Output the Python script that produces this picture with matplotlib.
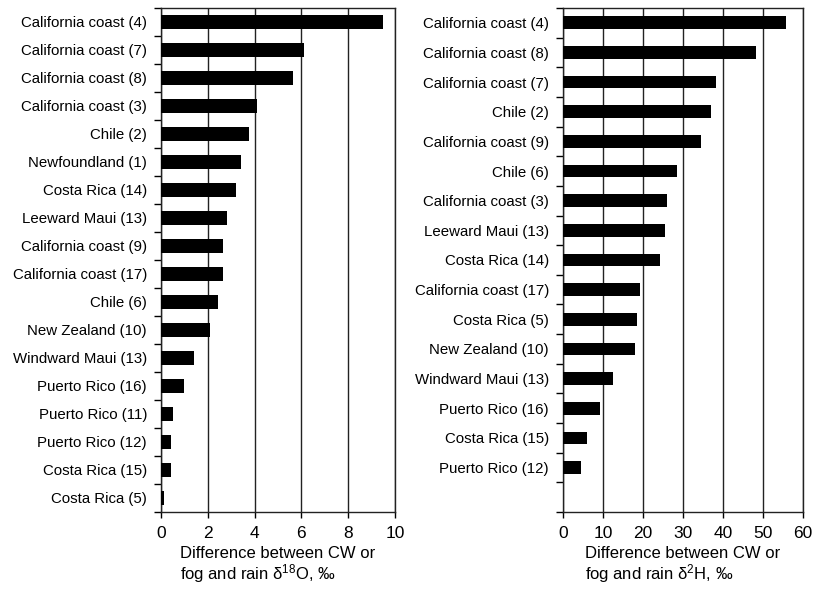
import matplotlib
matplotlib.use('Agg')
import matplotlib.pyplot as plt
import numpy as np

plt.rcParams['font.family'] = ['Liberation Sans', 'DejaVu Sans']
plt.rcParams['mathtext.fontset'] = 'custom'
plt.rcParams['mathtext.rm'] = 'Liberation Sans'
plt.rcParams['mathtext.it'] = 'Liberation Sans:italic'

o_sites = ['California coast (4)', 'California coast (7)', 'California coast (8)',
           'California coast (3)', 'Chile (2)', 'Newfoundland (1)', 'Costa Rica (14)',
           'Leeward Maui (13)', 'California coast (9)', 'California coast (17)',
           'Chile (6)', 'New Zealand (10)', 'Windward Maui (13)', 'Puerto Rico (16)',
           'Puerto Rico (11)', 'Puerto Rico (12)', 'Costa Rica (15)', 'Costa Rica (5)']
o_diff = [9.47, 6.12, 5.65, 4.1, 3.76, 3.42, 3.22, 2.83, 2.64, 2.64,
          2.43, 2.11, 1.39, 1.0, 0.52, 0.42, 0.42, 0.13]

h_sites = ['California coast (4)', 'California coast (8)', 'California coast (7)',
           'Chile (2)', 'California coast (9)', 'Chile (6)', 'California coast (3)',
           'Leeward Maui (13)', 'Costa Rica (14)', 'California coast (17)',
           'Costa Rica (5)', 'New Zealand (10)', 'Windward Maui (13)',
           'Puerto Rico (16)', 'Costa Rica (15)', 'Puerto Rico (12)']
h_diff = [55.7, 48.3, 38.2, 37.1, 34.6, 28.4, 26.1, 25.4, 24.2, 19.2,
          18.4, 18.1, 12.4, 9.2, 6.0, 4.6]

fig = plt.figure(figsize=(8.14, 5.91), dpi=100)
W, H = 814, 591


def panel(x0, x1, sites, vals, nslots, xmax, xlabel, height):
    ax = fig.add_axes([x0 / W, 1 - 512 / H, (x1 - x0) / W, (512 - 8) / H])
    y = np.arange(len(sites))
    ax.barh(y, vals, height=height, color='black', zorder=3)
    ax.set_ylim(nslots - 0.5, -0.5)
    ax.set_xlim(0, xmax)
    ax.set_xticks(np.linspace(0, xmax, 6 if xmax == 10 else 7))
    ax.set_yticks(y)
    ax.set_yticklabels(sites, fontsize=10.8)
    ax.set_yticks(np.arange(nslots + 1) - 0.5, minor=True)
    ax.tick_params(axis='y', which='major', length=0, pad=10)
    ax.tick_params(axis='y', which='minor', length=5, width=1, direction='out')
    ax.tick_params(axis='x', length=4, width=1, labelsize=12.5, pad=6)
    ax.grid(axis='x', color='#222222', linewidth=1, zorder=0)
    for s in ax.spines.values():
        s.set_linewidth(1)
        s.set_color('#222222')
    fig.text((x0 + x1) / 2 / W, 1 - 546 / H, xlabel, ha='center', va='top',
             multialignment='left', fontsize=12, linespacing=1.05)
    return ax


panel(161, 395, o_sites, o_diff, 18, 10,
      'Difference between CW or\nfog and rain δ$^{18}$O, ‰', 0.47)
panel(563, 803, h_sites, h_diff, 17, 60,
      'Difference between CW or\nfog and rain δ$^{2}$H, ‰', 0.43)

fig.savefig('out.png', dpi=100)
